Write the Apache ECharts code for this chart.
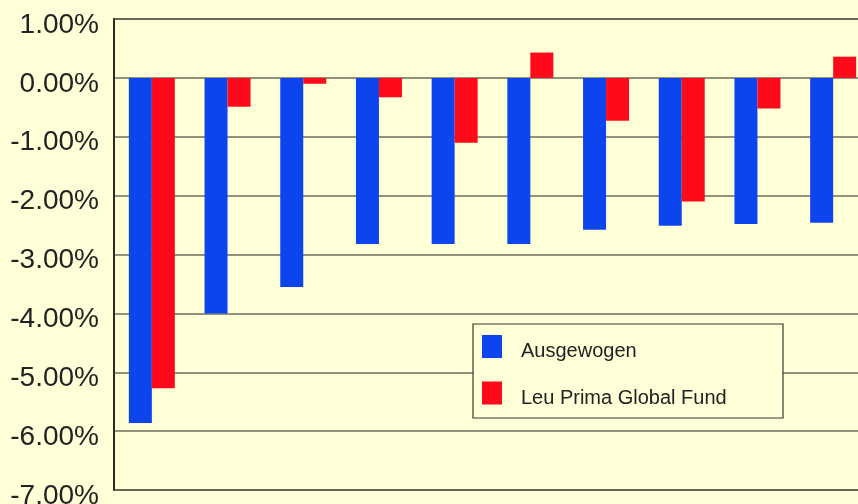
<!DOCTYPE html>
<html>
<head>
<meta charset="utf-8">
<script src="https://cdn.jsdelivr.net/npm/echarts@6/dist/echarts.min.js"></script>
<style>
  html, body { margin: 0; padding: 0; background: #FFFFD8; }
  #chart { width: 858px; height: 504px; }
</style>
</head>
<body>
<div id="chart"></div>
<script>
var categories = ['1', '2', '3', '4', '5', '6', '7', '8', '9', '10']
var ausgewogen = [-5.86, -4.00, -3.55, -2.82, -2.82, -2.82, -2.58, -2.51, -2.48, -2.46]
var leuPrima = [-5.27, -0.49, -0.10, -0.33, -1.10, 0.43, -0.73, -2.10, -0.52, 0.36]
var yTicks = {min: -7, max: 1, interval: 1}

var chart = echarts.init(document.getElementById('chart'))

chart.setOption({
  animation: false,
  backgroundColor: '#FFFFD8',
  textStyle: {fontFamily: 'Liberation Sans, Arial, sans-serif'},
  grid: {
    left: 114,
    top: 19,
    width: 757,
    bottom: 14,
    outerBoundsMode: 'none',
    containLabel: false,
    show: true,
    borderColor: '#1e1e16',
    borderWidth: 1.5,
  },
  xAxis: {
    type: 'category',
    data: categories,
    axisLine: {show: false},
    axisTick: {show: false},
    axisLabel: {show: false},
    splitLine: {show: false},
  },
  yAxis: {
    type: 'value',
    min: yTicks.min,
    max: yTicks.max,
    interval: yTicks.interval,
    axisLine: {show: true, lineStyle: {color: '#1e1e16', width: 1.5}},
    axisTick: {show: false},
    axisLabel: {
      color: '#222222',
      margin: 15,
      formatter: v => '{t|' + v.toFixed(2) + '%}',
      rich: {
        t: {fontSize: 28, color: '#222222', padding: [12, 0, 0, 0]},
      },
    },
    splitLine: {lineStyle: {color: '#6e6e5c', width: 1.6}},
  },
  legend: {
    orient: 'vertical',
    left: 482,
    top: 335,
    padding: 0,
    icon: 'rect',
    itemWidth: 20,
    itemHeight: 23,
    itemGap: 20,
    z: 60,
    formatter: name => '{t|' + name + '}',
    textStyle: {
      color: '#222222',
      rich: {
        t: {fontSize: 20, color: '#222222', padding: [10, 0, 0, 14]},
      },
    },
    data: ['Ausgewogen', 'Leu Prima Global Fund'],
  },
  graphic: [{
    type: 'rect',
    z: 50,
    shape: {x: 473, y: 324, width: 310, height: 94},
    style: {fill: '#FFFFD8', stroke: '#3a3a30', lineWidth: 1.2},
  }],
  series: [
    {
      name: 'Ausgewogen',
      type: 'bar',
      data: ausgewogen,
      barWidth: 23,
      barGap: '0%',
      itemStyle: {color: '#0C45EE'},
    },
    {
      name: 'Leu Prima Global Fund',
      type: 'bar',
      data: leuPrima,
      barWidth: 23,
      barGap: '0%',
      itemStyle: {color: '#FF0A1A'},
    },
  ],
})
</script>
</body>
</html>
